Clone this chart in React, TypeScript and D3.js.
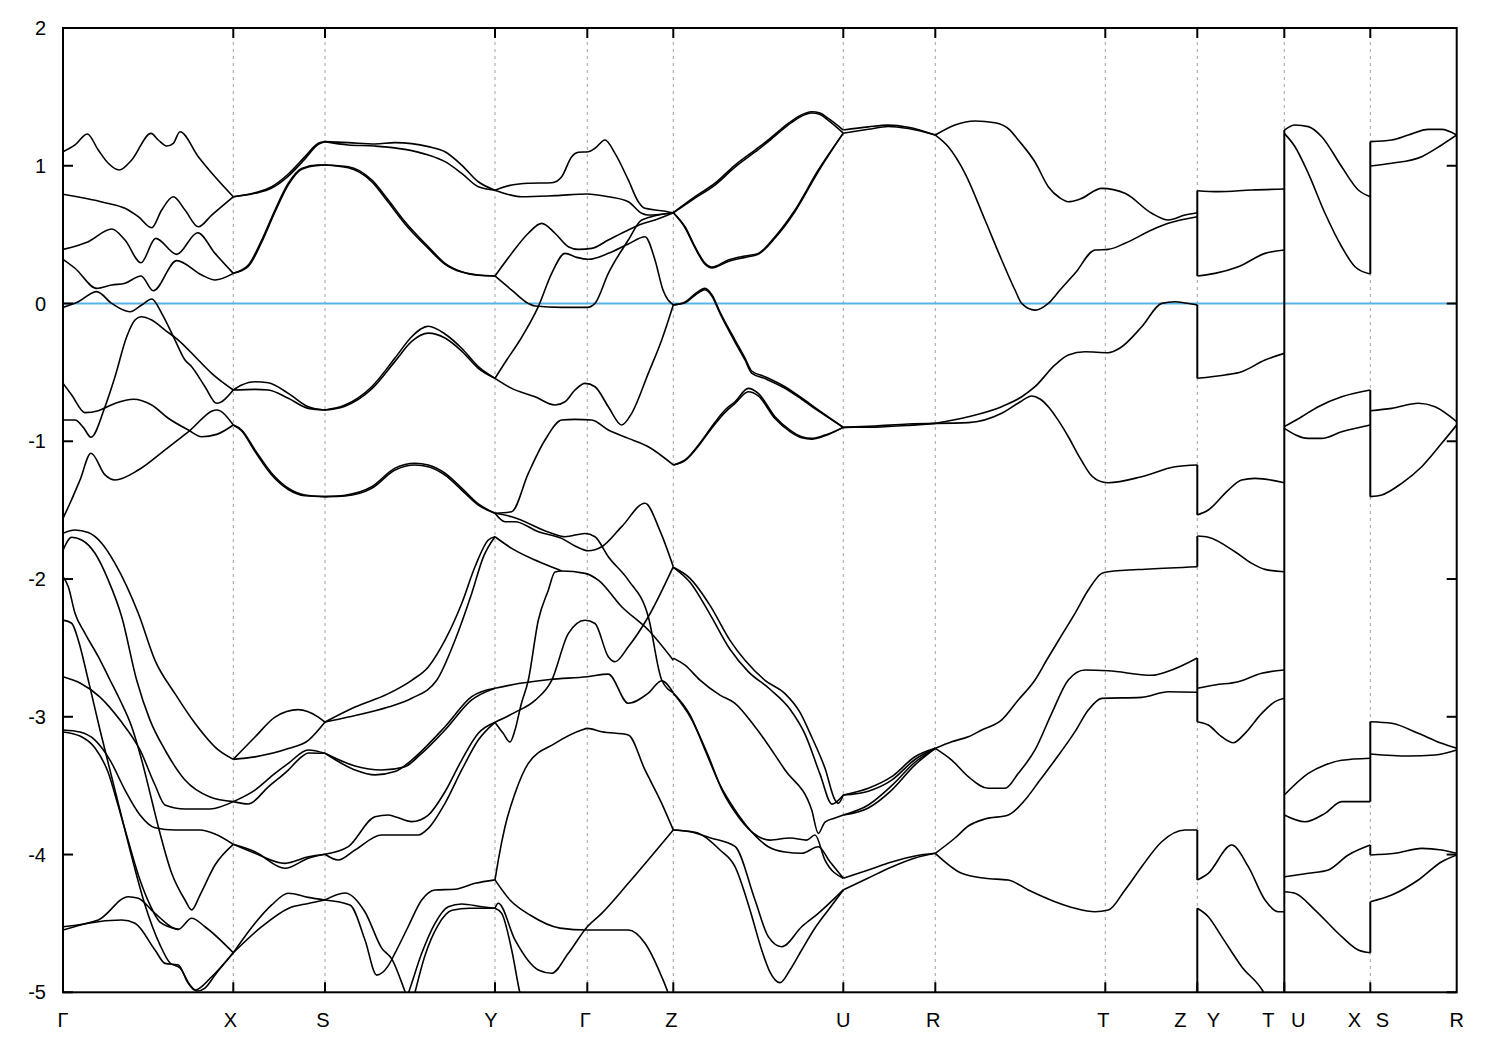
import React, { useEffect, useRef } from "react";
import * as d3 from "d3";

type P = [number, number];

// k-path positions of the high symmetry points
const kTicks = [0, 1.703, 2.62, 4.32, 5.243, 6.103, 7.803, 8.723, 10.423, 11.343, 12.213, 13.073, 13.937];
const kLabels = [
  { k: 0, t: "Γ", dx: 0 }, { k: 1.703, t: "X", dx: -3 }, { k: 2.62, t: "S", dx: -2 },
  { k: 4.32, t: "Y", dx: -4 }, { k: 5.243, t: "Γ", dx: -2 }, { k: 6.103, t: "Z", dx: -2 },
  { k: 7.803, t: "U", dx: 0 }, { k: 8.723, t: "R", dx: -2 }, { k: 10.423, t: "T", dx: -2 },
  { k: 11.343, t: "Z", dx: -17 }, { k: 11.343, t: "Y", dx: 16 },
  { k: 12.213, t: "T", dx: -16 }, { k: 12.213, t: "U", dx: 14 },
  { k: 13.073, t: "X", dx: -16 }, { k: 13.073, t: "S", dx: 12 }, { k: 13.937, t: "R", dx: 0 },
];
const eTicks = [-5, -4, -3, -2, -1, 0, 1, 2];

// Γ - X
const bandsGX: P[][] = [
  [[0,1.102],[0.12,1.151],[0.243,1.231],[0.353,1.114],[0.453,1.018],[0.563,0.969],[0.687,1.042],[0.88,1.235],[0.953,1.187],[1.037,1.143],[1.103,1.163],[1.17,1.247],[1.353,1.066],[1.52,0.92],[1.703,0.775]],
  [[0,0.793],[0.22,0.764],[0.42,0.732],[0.62,0.691],[0.753,0.63],[0.887,0.55],[0.987,0.679],[1.103,0.775],[1.22,0.679],[1.353,0.557],[1.487,0.642],[1.703,0.775]],
  [[0,0.393],[0.253,0.449],[0.487,0.541],[0.62,0.461],[0.78,0.296],[0.927,0.473],[1.137,0.357],[1.347,0.514],[1.52,0.364],[1.703,0.219]],
  [[0,0.321],[0.12,0.256],[0.337,0.11],[0.487,0.134],[0.62,0.147],[0.78,0.2],[0.903,0.093],[1.137,0.311],[1.387,0.207],[1.52,0.171],[1.703,0.219]],
  [[0,-0.028],[0.153,0.013],[0.337,0.086],[0.487,0.001],[0.67,-0.06],[0.787,-0.011],[0.887,0.033],[0.987,-0.071],[1.12,-0.265],[1.22,-0.41],[1.287,-0.459],[1.42,-0.604],[1.537,-0.724],[1.703,-0.628]],
  [[0,-0.846],[0.12,-0.846],[0.203,-0.899],[0.28,-0.971],[0.42,-0.749],[0.52,-0.531],[0.637,-0.241],[0.72,-0.12],[0.78,-0.096],[0.887,-0.12],[1.02,-0.193],[1.153,-0.265],[1.353,-0.41],[1.487,-0.507],[1.703,-0.628]],
  [[0,-0.579],[0.087,-0.664],[0.22,-0.792],[0.353,-0.778],[0.52,-0.725],[0.703,-0.695],[0.887,-0.737],[1.053,-0.833],[1.253,-0.918],[1.387,-0.967],[1.537,-0.95],[1.703,-0.882]],
  [[0,-1.559],[0.07,-1.45],[0.17,-1.281],[0.28,-1.087],[0.42,-1.244],[0.52,-1.281],[0.753,-1.209],[1.02,-1.063],[1.253,-0.931],[1.537,-0.773],[1.703,-0.882]],
  [[0,-1.668],[0.12,-1.644],[0.253,-1.663],[0.387,-1.74],[0.52,-1.886],[0.753,-2.249],[0.92,-2.59],[1.12,-2.832],[1.32,-3.047],[1.553,-3.241],[1.703,-3.309]],
  [[0,-1.79],[0.087,-1.697],[0.187,-1.717],[0.32,-1.813],[0.453,-2.008],[0.587,-2.274],[0.737,-2.735],[0.87,-3.024],[1.02,-3.241],[1.22,-3.459],[1.47,-3.582],[1.703,-3.616]],
  [[0,-1.983],[0.053,-2.056],[0.12,-2.249],[0.22,-2.394],[0.353,-2.564],[0.47,-2.733],[0.57,-2.878],[0.687,-3.072],[0.787,-3.314],[0.887,-3.604],[0.953,-3.798],[1.087,-4.136],[1.22,-4.33],[1.287,-4.402],[1.37,-4.294],[1.52,-4.076],[1.703,-3.926]],
  [[0,-2.298],[0.087,-2.321],[0.153,-2.444],[0.253,-2.735],[0.37,-3.096],[0.52,-3.532],[0.67,-3.967],[0.82,-4.366],[0.97,-4.656],[1.07,-4.787],[1.17,-4.824],[1.27,-4.947],[1.34,-4.991],[1.42,-4.969],[1.52,-4.874],[1.703,-4.713]],
  [[0,-2.709],[0.17,-2.755],[0.37,-2.857],[0.57,-3.024],[0.77,-3.241],[0.92,-3.495],[1.02,-3.64],[1.22,-3.669],[1.47,-3.669],[1.703,-3.616]],
  [[0,-3.096],[0.17,-3.111],[0.32,-3.169],[0.47,-3.314],[0.62,-3.532],[0.77,-3.713],[0.92,-3.806],[1.12,-3.822],[1.37,-3.822],[1.52,-3.851],[1.703,-3.926]],
  [[0,-3.11],[0.17,-3.14],[0.32,-3.227],[0.45,-3.401],[0.55,-3.641],[0.65,-3.895],[0.77,-4.185],[0.87,-4.366],[0.97,-4.49],[1.153,-4.543]],
  [[0,-4.524],[0.353,-4.475],[0.653,-4.306],[0.753,-4.318],[0.92,-4.427],[1.153,-4.543],[1.287,-4.463],[1.42,-4.524],[1.703,-4.713]],
  [[0,-4.548],[0.253,-4.499],[0.587,-4.475],[0.72,-4.499],[0.92,-4.693],[1.02,-4.79],[1.153,-4.802],[1.253,-4.935],[1.32,-4.983],[1.487,-4.887],[1.703,-4.713]],
];

// X - S
const bandsXS: P[][] = [
  [[1.703,0.775],[1.92,0.804],[2.087,0.848],[2.253,0.94],[2.42,1.066],[2.553,1.163],[2.62,1.175]],
  [[1.703,0.775],[1.92,0.8],[2.087,0.838],[2.253,0.925],[2.42,1.05],[2.553,1.155],[2.62,1.175]],
  [[1.703,0.219],[1.853,0.279],[1.987,0.461],[2.12,0.679],[2.253,0.873],[2.387,0.981],[2.553,1.005],[2.62,1.005]],
  [[1.703,0.219],[1.853,0.27],[1.987,0.445],[2.12,0.665],[2.253,0.862],[2.387,0.975],[2.553,1.003],[2.62,1.005]],
  [[1.703,-0.628],[1.787,-0.592],[1.92,-0.568],[2.053,-0.575],[2.253,-0.652],[2.453,-0.749],[2.62,-0.773]],
  [[1.703,-0.628],[1.92,-0.623],[2.053,-0.628],[2.253,-0.688],[2.453,-0.761],[2.62,-0.773]],
  [[1.703,-0.882],[1.787,-0.918],[1.92,-1.063],[2.087,-1.232],[2.253,-1.341],[2.42,-1.39],[2.62,-1.402]],
  [[1.703,-0.882],[1.787,-0.925],[1.92,-1.075],[2.087,-1.245],[2.253,-1.35],[2.42,-1.395],[2.62,-1.402]],
  [[1.703,-3.309],[1.92,-3.147],[2.12,-3.002],[2.353,-2.948],[2.553,-3.002],[2.62,-3.038]],
  [[1.703,-3.309],[1.92,-3.291],[2.253,-3.231],[2.453,-3.171],[2.62,-3.038]],
  [[1.703,-3.616],[1.92,-3.532],[2.12,-3.411],[2.253,-3.338],[2.453,-3.241],[2.62,-3.265]],
  [[1.703,-3.616],[1.853,-3.633],[2.053,-3.508],[2.253,-3.387],[2.387,-3.29],[2.453,-3.263],[2.62,-3.265]],
  [[1.703,-3.926],[1.92,-3.991],[2.22,-4.064],[2.453,-4.016],[2.62,-3.998]],
  [[1.703,-3.926],[1.92,-3.98],[2.22,-4.1],[2.453,-4.027],[2.62,-3.998]],
  [[1.703,-4.713],[1.92,-4.499],[2.087,-4.366],[2.253,-4.281],[2.453,-4.311],[2.62,-4.33]],
  [[1.703,-4.713],[1.987,-4.524],[2.253,-4.391],[2.453,-4.355],[2.62,-4.33]],
];

// S - Y
const bandsSY: P[][] = [
  [[2.62,1.175],[2.853,1.168],[3.12,1.158],[3.32,1.168],[3.653,1.139],[3.82,1.102],[3.987,1.005],[4.153,0.884],[4.32,0.823]],
  [[2.62,1.175],[2.853,1.151],[3.12,1.143],[3.42,1.119],[3.653,1.078],[3.82,1.03],[3.987,0.945],[4.153,0.848],[4.32,0.823]],
  [[2.62,1.005],[2.853,0.993],[3.087,0.897],[3.253,0.751],[3.42,0.594],[3.653,0.412],[3.82,0.292],[3.987,0.231],[4.153,0.207],[4.32,0.2]],
  [[2.62,1.005],[2.853,0.985],[3.087,0.885],[3.253,0.735],[3.42,0.578],[3.653,0.4],[3.82,0.285],[3.987,0.228],[4.153,0.205],[4.32,0.2]],
  [[2.62,-0.773],[2.82,-0.737],[3.087,-0.604],[3.32,-0.396],[3.487,-0.241],[3.653,-0.165],[3.82,-0.221],[3.987,-0.325],[4.153,-0.458],[4.32,-0.543]],
  [[2.62,-0.773],[2.82,-0.745],[3.087,-0.62],[3.32,-0.42],[3.487,-0.275],[3.653,-0.215],[3.82,-0.25],[3.987,-0.345],[4.153,-0.47],[4.32,-0.543]],
  [[2.62,-1.402],[2.82,-1.397],[3.087,-1.342],[3.32,-1.209],[3.52,-1.172],[3.653,-1.185],[3.82,-1.246],[3.987,-1.354],[4.153,-1.463],[4.32,-1.523]],
  [[2.62,-1.402],[2.82,-1.392],[3.087,-1.33],[3.32,-1.195],[3.52,-1.16],[3.653,-1.172],[3.82,-1.232],[3.987,-1.34],[4.153,-1.455],[4.32,-1.523]],
  [[2.62,-3.038],[2.92,-2.929],[3.253,-2.832],[3.487,-2.735],[3.653,-2.638],[3.82,-2.444],[3.987,-2.178],[4.12,-1.911],[4.253,-1.717],[4.32,-1.693]],
  [[2.62,-3.038],[2.853,-3.002],[3.253,-2.929],[3.487,-2.866],[3.737,-2.735],[3.92,-2.444],[4.087,-2.105],[4.203,-1.841],[4.32,-1.693]],
  [[2.62,-3.265],[2.92,-3.386],[3.12,-3.422],[3.32,-3.398],[3.487,-3.314],[3.82,-3.072],[4.087,-2.854],[4.32,-2.793]],
  [[2.62,-3.265],[2.92,-3.357],[3.187,-3.386],[3.42,-3.362],[3.57,-3.277],[3.82,-3.096],[4.087,-2.878],[4.32,-2.793]],
  [[2.62,-3.998],[2.853,-3.943],[3.12,-3.725],[3.253,-3.713],[3.32,-3.725],[3.487,-3.761],[3.653,-3.713],[3.82,-3.544],[3.987,-3.314],[4.153,-3.12],[4.32,-3.04]],
  [[2.62,-3.998],[2.753,-4.04],[2.92,-3.967],[3.187,-3.858],[3.42,-3.858],[3.553,-3.858],[3.653,-3.81],[3.82,-3.628],[3.987,-3.386],[4.153,-3.168],[4.32,-3.04]],
  [[2.62,-4.33],[2.82,-4.279],[3.02,-4.417],[3.187,-4.679],[3.29,-4.761],[3.42,-4.994],[3.47,-5.09]],
  [[2.62,-4.33],[2.87,-4.366],[3.02,-4.62],[3.137,-4.875],[3.25,-4.81],[3.32,-4.716],[3.45,-4.526],[3.587,-4.33],[3.72,-4.257],[3.92,-4.252],[4.12,-4.209],[4.32,-4.184]],
  [[3.41,-5.09],[3.453,-5.007],[3.587,-4.717],[3.72,-4.499],[3.853,-4.379],[3.987,-4.359],[4.187,-4.379],[4.32,-4.39]],
  [[3.49,-5.09],[3.62,-4.732],[3.75,-4.514],[3.89,-4.405],[4.07,-4.39],[4.32,-4.39]],
];

// Y - Γ - Z
const bandsYZ: P[][] = [
  [[4.32,0.823],[4.487,0.86],[4.653,0.873],[4.887,0.877],[4.987,0.921],[5.087,1.066],[5.153,1.098],[5.253,1.102],[5.32,1.127],[5.42,1.187],[5.52,1.09],[5.653,0.897],[5.753,0.739],[5.82,0.691],[5.987,0.674],[6.103,0.659]],
  [[4.32,0.823],[4.587,0.775],[4.92,0.783],[5.243,0.795],[5.453,0.775],[5.653,0.739],[5.787,0.655],[5.853,0.642],[6.103,0.659]],
  [[4.32,0.2],[4.487,0.364],[4.653,0.51],[4.787,0.582],[4.92,0.51],[5.053,0.412],[5.153,0.393],[5.287,0.4],[5.453,0.461],[5.653,0.534],[5.787,0.577],[5.92,0.606],[6.103,0.659]],
  [[4.32,-0.543],[4.437,-0.41],[4.57,-0.265],[4.753,-0.023],[4.887,0.219],[5.02,0.364],[5.137,0.335],[5.253,0.321],[5.453,0.364],[5.653,0.432],[5.82,0.485],[5.92,0.316],[6.0,0.098],[6.103,-0.01]],
  [[4.32,0.2],[4.487,0.098],[4.653,0.001],[4.72,-0.018],[4.987,-0.028],[5.243,-0.028],[5.32,0.001],[5.453,0.219],[5.653,0.461],[5.787,0.606],[6.103,0.659]],
  [[4.32,-0.543],[4.487,-0.616],[4.72,-0.677],[4.92,-0.737],[5.02,-0.713],[5.12,-0.628],[5.22,-0.58],[5.32,-0.604],[5.453,-0.749],[5.587,-0.882],[5.687,-0.797],[5.853,-0.507],[5.987,-0.265],[6.103,-0.01]],
  [[4.32,-1.523],[4.487,-1.511],[4.653,-1.233],[4.82,-0.991],[4.987,-0.846],[5.12,-0.841],[5.287,-0.846],[5.453,-0.918],[5.653,-0.979],[5.853,-1.04],[6.103,-1.172]],
  [[4.32,-1.523],[4.487,-1.548],[4.887,-1.668],[5.02,-1.693],[5.22,-1.669],[5.32,-1.693],[5.453,-1.838],[5.653,-2.008],[5.853,-2.274],[5.987,-2.733],[6.103,-2.825]],
  [[4.32,-1.523],[4.42,-1.584],[4.52,-1.584],[4.753,-1.657],[4.987,-1.705],[5.12,-1.76],[5.253,-1.795],[5.387,-1.766],[5.587,-1.62],[5.82,-1.45],[5.97,-1.65],[6.103,-1.91]],
  [[4.32,-1.693],[4.487,-1.777],[4.72,-1.862],[4.92,-1.922],[4.987,-1.942]],
  [[4.32,-2.793],[4.57,-2.757],[4.87,-2.729],[5.243,-2.709],[5.453,-2.69],[5.653,-2.902],[5.853,-2.829],[5.987,-2.738],[6.103,-2.825]],
  [[4.32,-3.04],[4.52,-2.968],[4.72,-2.881],[4.887,-2.735],[5.053,-2.396],[5.22,-2.299],[5.32,-2.323],[5.453,-2.564],[5.52,-2.6],[5.653,-2.492],[5.853,-2.274],[6.103,-1.91]],
  [[4.32,-3.04],[4.4,-3.118],[4.47,-3.183],[4.52,-3.096],[4.58,-2.914],[4.653,-2.735],[4.753,-2.299],[4.853,-2.081],[4.92,-1.949],[4.987,-1.942],[5.22,-1.959],[5.353,-2.008],[5.587,-2.201],[5.853,-2.37],[6.103,-2.589]],
  [[4.32,-4.184],[4.353,-4.04],[4.42,-3.798],[4.52,-3.556],[4.653,-3.338],[4.92,-3.193],[5.187,-3.096],[5.243,-3.084],[5.387,-3.108],[5.653,-3.132],[5.82,-3.386],[5.987,-3.628],[6.103,-3.822]],
  [[4.32,-4.39],[4.353,-4.354],[4.52,-4.62],[4.753,-4.838],[4.887,-4.862],[5.053,-4.717],[5.243,-4.524],[5.387,-4.427],[5.653,-4.209],[6.103,-3.822]],
  [[4.32,-4.184],[4.47,-4.33],[4.67,-4.439],[4.97,-4.534],[5.243,-4.548],[5.653,-4.548],[5.82,-4.644],[5.987,-4.887],[6.053,-5.008],[6.09,-5.09]],
  [[4.32,-4.39],[4.387,-4.427],[4.487,-4.693],[4.57,-5.007],[4.6,-5.09]],
];

// Z - U
const bandsZU: P[][] = [
  [[6.103,0.659],[6.32,0.775],[6.52,0.873],[6.72,1.005],[6.92,1.114],[7.053,1.187],[7.253,1.308],[7.37,1.364],[7.487,1.392],[7.57,1.382],[7.653,1.344],[7.803,1.259]],
  [[6.103,0.659],[6.32,0.765],[6.52,0.86],[6.72,0.99],[6.92,1.1],[7.053,1.175],[7.253,1.297],[7.37,1.354],[7.487,1.383],[7.57,1.372],[7.653,1.33],[7.803,1.237]],
  [[6.103,0.659],[6.22,0.557],[6.32,0.412],[6.42,0.294],[6.49,0.265],[6.653,0.316],[6.82,0.345],[6.953,0.364],[7.12,0.485],[7.32,0.679],[7.553,0.969],[7.803,1.237]],
  [[6.103,0.659],[6.22,0.55],[6.32,0.405],[6.42,0.285],[6.49,0.258],[6.653,0.305],[6.82,0.335],[6.953,0.358],[7.12,0.475],[7.32,0.668],[7.553,0.958],[7.803,1.237]],
  [[6.103,-0.01],[6.22,0.011],[6.32,0.069],[6.42,0.11],[6.49,0.062],[6.57,-0.062],[6.72,-0.265],[6.82,-0.396],[6.887,-0.49],[7.02,-0.531],[7.22,-0.604],[7.387,-0.686],[7.553,-0.773],[7.803,-0.899]],
  [[6.103,-0.01],[6.22,0.005],[6.32,0.06],[6.42,0.1],[6.49,0.052],[6.57,-0.072],[6.72,-0.28],[6.82,-0.41],[6.887,-0.505],[7.02,-0.545],[7.22,-0.615],[7.387,-0.695],[7.553,-0.78],[7.803,-0.899]],
  [[6.103,-1.172],[6.22,-1.136],[6.37,-1.012],[6.487,-0.894],[6.62,-0.773],[6.72,-0.713],[6.853,-0.616],[6.953,-0.652],[7.12,-0.822],[7.27,-0.919],[7.387,-0.967],[7.487,-0.979],[7.62,-0.955],[7.803,-0.899]],
  [[6.103,-1.172],[6.22,-1.14],[6.37,-1.02],[6.487,-0.905],[6.62,-0.79],[6.72,-0.725],[6.853,-0.64],[6.953,-0.67],[7.12,-0.835],[7.27,-0.93],[7.387,-0.975],[7.487,-0.985],[7.62,-0.96],[7.803,-0.899]],
  [[6.103,-1.915],[6.27,-1.995],[6.47,-2.191],[6.67,-2.445],[6.82,-2.59],[7.02,-2.735],[7.22,-2.832],[7.37,-2.968],[7.487,-3.147],[7.62,-3.374],[7.72,-3.604],[7.753,-3.628],[7.803,-3.568]],
  [[6.103,-1.915],[6.27,-2.024],[6.47,-2.256],[6.67,-2.51],[6.85,-2.67],[7.07,-2.8],[7.27,-2.945],[7.42,-3.126],[7.57,-3.416],[7.69,-3.634],[7.803,-3.568]],
  [[6.103,-2.574],[6.22,-2.625],[6.37,-2.734],[6.57,-2.843],[6.72,-2.902],[6.92,-3.072],[7.22,-3.386],[7.487,-3.677],[7.553,-3.846],[7.62,-3.764],[7.72,-3.735],[7.803,-3.713]],
  [[6.103,-2.828],[6.27,-2.987],[6.42,-3.241],[6.57,-3.495],[6.72,-3.677],[6.87,-3.822],[7.053,-3.943],[7.22,-3.982],[7.387,-3.991],[7.553,-3.943],[7.67,-4.053],[7.803,-4.172]],
  [[6.103,-2.828],[6.29,-3.024],[6.45,-3.278],[6.59,-3.532],[6.72,-3.692],[6.89,-3.837],[7.07,-3.895],[7.27,-3.88],[7.437,-3.895],[7.52,-3.858],[7.62,-4.04],[7.803,-4.172]],
  [[6.103,-3.822],[6.27,-3.834],[6.47,-3.878],[6.72,-3.941],[6.92,-4.33],[7.053,-4.596],[7.187,-4.669],[7.387,-4.524],[7.553,-4.427],[7.803,-4.257]],
  [[6.103,-3.822],[6.32,-3.838],[6.57,-3.967],[6.72,-4.088],[6.87,-4.402],[6.987,-4.693],[7.07,-4.853],[7.17,-4.93],[7.27,-4.838],[7.387,-4.693],[7.52,-4.533],[7.653,-4.402],[7.803,-4.257]],
];

// U - R
const bandsUR: P[][] = [
  [[7.803,1.259],[8.053,1.282],[8.253,1.295],[8.453,1.28],[8.723,1.223]],
  [[7.803,1.237],[8.053,1.265],[8.253,1.285],[8.453,1.27],[8.723,1.223]],
  [[7.803,-0.899],[8.12,-0.889],[8.453,-0.875],[8.723,-0.87]],
  [[7.803,-0.899],[8.12,-0.897],[8.453,-0.885],[8.723,-0.87]],
  [[7.803,-3.568],[8.053,-3.519],[8.287,-3.435],[8.52,-3.29],[8.723,-3.229]],
  [[7.803,-3.568],[8.053,-3.54],[8.287,-3.46],[8.52,-3.31],[8.723,-3.229]],
  [[7.803,-3.713],[8.053,-3.662],[8.287,-3.532],[8.52,-3.349],[8.723,-3.229]],
  [[7.803,-3.713],[8.053,-3.64],[8.287,-3.5],[8.52,-3.33],[8.723,-3.229]],
  [[7.803,-4.172],[8.053,-4.112],[8.287,-4.054],[8.52,-4.01],[8.723,-3.991]],
  [[7.803,-4.257],[8.053,-4.17],[8.287,-4.09],[8.52,-4.025],[8.723,-3.991]],
];

// R - T - Z
const bandsRZ: P[][] = [
  [[8.723,1.223],[8.92,1.296],[9.12,1.325],[9.32,1.312],[9.47,1.259],[9.553,1.187],[9.72,1.027],[9.853,0.848],[9.97,0.766],[10.053,0.739],[10.17,0.758],[10.387,0.836],[10.62,0.8],[10.887,0.655],[11.053,0.606],[11.22,0.642],[11.343,0.659]],
  [[8.723,1.223],[8.853,1.138],[9.02,0.945],[9.22,0.606],[9.387,0.316],[9.52,0.098],[9.587,0.001],[9.72,-0.048],[9.853,0.001],[9.97,0.098],[10.12,0.219],[10.32,0.388],[10.453,0.393],[10.62,0.437],[10.887,0.534],[11.053,0.582],[11.343,0.63]],
  [[8.723,-0.87],[9.053,-0.822],[9.387,-0.749],[9.587,-0.677],[9.72,-0.604],[9.92,-0.446],[10.053,-0.374],[10.22,-0.35],[10.453,-0.357],[10.57,-0.323],[10.787,-0.169],[10.987,0.001],[11.12,0.013],[11.22,0.004],[11.343,-0.01]],
  [[8.723,-0.87],[9.053,-0.865],[9.387,-0.797],[9.57,-0.715],[9.687,-0.671],[9.77,-0.693],[9.853,-0.749],[9.95,-0.845],[10.053,-0.967],[10.17,-1.121],[10.27,-1.237],[10.387,-1.294],[10.453,-1.301],[10.787,-1.257],[11.12,-1.185],[11.343,-1.172]],
  [[8.723,-3.229],[8.887,-3.181],[9.053,-3.145],[9.187,-3.096],[9.387,-3.023],[9.553,-2.878],[9.72,-2.733],[9.837,-2.588],[9.97,-2.428],[10.12,-2.249],[10.253,-2.08],[10.387,-1.959],[10.453,-1.947],[10.87,-1.927],[11.343,-1.911]],
  [[8.723,-3.991],[8.92,-3.88],[9.053,-3.793],[9.22,-3.742],[9.453,-3.713],[9.62,-3.604],[9.77,-3.459],[9.92,-3.314],[10.12,-3.108],[10.253,-2.951],[10.387,-2.866],[10.787,-2.859],[11.053,-2.818],[11.343,-2.822]],
  [[8.723,-3.229],[8.887,-3.314],[9.053,-3.435],[9.253,-3.519],[9.42,-3.519],[9.553,-3.41],[9.72,-3.241],[9.887,-2.975],[10.053,-2.733],[10.22,-2.66],[10.453,-2.666],[10.887,-2.699],[11.087,-2.66],[11.343,-2.573]],
  [[8.723,-3.991],[8.987,-4.136],[9.22,-4.172],[9.453,-4.185],[9.653,-4.257],[9.92,-4.342],[10.12,-4.39],[10.32,-4.415],[10.453,-4.403],[10.62,-4.257],[10.787,-4.088],[10.987,-3.907],[11.22,-3.822],[11.343,-3.822]],
];

// Y - T
const bandsYT: P[][] = [
  [[11.343,0.819],[11.553,0.812],[11.887,0.824],[12.213,0.831]],
  [[11.343,0.2],[11.52,0.219],[11.753,0.267],[12.02,0.364],[12.213,0.388]],
  [[11.343,-0.543],[11.62,-0.519],[11.787,-0.495],[12.02,-0.41],[12.213,-0.362]],
  [[11.343,-1.535],[11.453,-1.499],[11.653,-1.354],[11.787,-1.281],[11.92,-1.269],[12.213,-1.301]],
  [[11.343,-1.688],[11.453,-1.697],[11.72,-1.802],[11.887,-1.886],[12.02,-1.93],[12.213,-1.947]],
  [[11.343,-2.793],[11.52,-2.769],[11.753,-2.745],[11.987,-2.684],[12.213,-2.66]],
  [[11.343,-3.036],[11.453,-3.06],[11.587,-3.145],[11.703,-3.188],[11.82,-3.12],[11.987,-2.975],[12.12,-2.89],[12.213,-2.866]],
  [[11.343,-4.185],[11.453,-4.136],[11.687,-3.931],[11.853,-4.088],[12.02,-4.33],[12.153,-4.415],[12.213,-4.415]],
  [[11.343,-4.39],[11.453,-4.451],[11.587,-4.596],[11.787,-4.814],[12.003,-4.996],[12.07,-5.09]],
];

// U - X
const bandsUX: P[][] = [
  [[12.213,1.259],[12.32,1.296],[12.453,1.284],[12.587,1.211],[12.787,0.993],[12.953,0.824],[13.073,0.775]],
  [[12.213,1.235],[12.32,1.138],[12.453,0.945],[12.62,0.655],[12.787,0.412],[12.92,0.267],[13.073,0.214]],
  [[12.213,-0.894],[12.387,-0.822],[12.553,-0.749],[12.787,-0.677],[13.073,-0.628]],
  [[12.213,-0.906],[12.453,-0.979],[12.587,-0.979],[12.787,-0.931],[13.073,-0.882]],
  [[12.213,-3.568],[12.453,-3.411],[12.62,-3.35],[12.787,-3.316],[13.073,-3.301]],
  [[12.213,-3.713],[12.42,-3.762],[12.62,-3.701],[12.787,-3.616],[13.073,-3.616]],
  [[12.213,-4.161],[12.453,-4.136],[12.653,-4.112],[12.853,-4.003],[13.073,-3.931]],
  [[12.213,-4.27],[12.32,-4.281],[12.52,-4.403],[12.787,-4.596],[12.953,-4.693],[13.073,-4.713]],
];

// S - R
const bandsSR: P[][] = [
  [[13.073,1.175],[13.287,1.187],[13.453,1.223],[13.653,1.264],[13.787,1.264],[13.937,1.223]],
  [[13.073,0.998],[13.287,1.018],[13.587,1.066],[13.787,1.151],[13.937,1.223]],
  [[13.073,-0.778],[13.287,-0.761],[13.553,-0.724],[13.72,-0.749],[13.937,-0.858]],
  [[13.073,-1.402],[13.187,-1.39],[13.387,-1.305],[13.587,-1.185],[13.787,-1.015],[13.937,-0.882]],
  [[13.073,-3.036],[13.287,-3.047],[13.553,-3.12],[13.787,-3.193],[13.937,-3.229]],
  [[13.073,-3.27],[13.453,-3.285],[13.72,-3.277],[13.937,-3.241]],
  [[13.073,-4.003],[13.32,-3.991],[13.587,-3.955],[13.787,-3.967],[13.937,-3.991]],
  [[13.073,-4.342],[13.287,-4.294],[13.553,-4.185],[13.787,-4.052],[13.937,-4.003]],
];

// vertical band connections at the path discontinuities: [k, E1, E2]
const jumps: [number, number, number][] = [
  [11.343, 0.819, 0.2], [11.343, -0.01, -0.543], [11.343, -1.172, -1.535], [11.343, -1.688, -1.911],
  [11.343, -2.573, -3.036], [11.343, -3.822, -4.185], [11.343, -4.39, -5.1],
  [12.213, 1.259, -5.1],
  [13.073, 1.175, 0.214], [13.073, -0.628, -1.402], [13.073, -3.036, -3.616], [13.073, -3.931, -4.003], [13.073, -4.342, -4.713],
];

const App = () => {
  const svgRef = useRef<SVGSVGElement | null>(null);
  const w = 1500;
  const h = 1050;
  const m = { top: 28, right: 43.3, bottom: 57.7, left: 63 };

  useEffect(() => {
    const svg = d3.select(svgRef.current);
    svg.selectAll("*").remove();

    const x = d3.scaleLinear().domain([0, 13.937]).range([m.left, w - m.right]);
    const y = d3.scaleLinear().domain([-5, 2]).range([h - m.bottom, m.top]);
    const font = "'Liberation Sans', Arial, sans-serif";

    svg.append("rect").attr("width", w).attr("height", h).attr("fill", "#fff");

    svg.append("defs").append("clipPath").attr("id", "plotclip")
      .append("rect")
      .attr("x", m.left).attr("y", m.top)
      .attr("width", w - m.left - m.right).attr("height", h - m.top - m.bottom);

    // dashed grid at the high symmetry points
    svg.append("g").selectAll("line")
      .data(kTicks.slice(1, -1))
      .enter().append("line")
      .attr("x1", (d) => x(d)).attr("x2", (d) => x(d))
      .attr("y1", m.top).attr("y2", h - m.bottom)
      .attr("stroke", "#a0a0a0").attr("stroke-width", 1)
      .attr("stroke-dasharray", "3,4");

    // Fermi level
    svg.append("line")
      .attr("x1", m.left).attr("x2", w - m.right)
      .attr("y1", y(0)).attr("y2", y(0))
      .attr("stroke", "#56b4e9").attr("stroke-width", 2);

    const plot = svg.append("g").attr("clip-path", "url(#plotclip)");
    const line = d3.line<P>().x((d) => x(d[0])).y((d) => y(d[1])).curve(d3.curveMonotoneX);

    const allBands = [
      ...bandsGX, ...bandsXS, ...bandsSY, ...bandsYZ, ...bandsZU,
      ...bandsUR, ...bandsRZ, ...bandsYT, ...bandsUX, ...bandsSR,
    ];
    plot.selectAll("path.band")
      .data(allBands)
      .enter().append("path")
      .attr("class", "band")
      .attr("d", (d) => line(d))
      .attr("fill", "none")
      .attr("stroke", "#000")
      .attr("stroke-width", 1.6)
      .attr("stroke-linejoin", "round");

    plot.selectAll("line.jump")
      .data(jumps)
      .enter().append("line")
      .attr("class", "jump")
      .attr("x1", (d) => x(d[0])).attr("x2", (d) => x(d[0]))
      .attr("y1", (d) => y(d[1])).attr("y2", (d) => y(d[2]))
      .attr("stroke", "#000").attr("stroke-width", 2);

    // frame
    svg.append("rect")
      .attr("x", m.left).attr("y", m.top)
      .attr("width", w - m.left - m.right).attr("height", h - m.top - m.bottom)
      .attr("fill", "none").attr("stroke", "#000").attr("stroke-width", 2);

    // ticks
    const tk = svg.append("g").attr("stroke", "#000").attr("stroke-width", 2);
    kTicks.slice(1, -1).forEach((k) => {
      tk.append("line").attr("x1", x(k)).attr("x2", x(k)).attr("y1", h - m.bottom).attr("y2", h - m.bottom - 10);
      tk.append("line").attr("x1", x(k)).attr("x2", x(k)).attr("y1", m.top).attr("y2", m.top + 10);
    });
    eTicks.forEach((e) => {
      tk.append("line").attr("x1", m.left).attr("x2", m.left + 10).attr("y1", y(e)).attr("y2", y(e));
      tk.append("line").attr("x1", w - m.right).attr("x2", w - m.right - 10).attr("y1", y(e)).attr("y2", y(e));
    });

    svg.append("g").selectAll("text")
      .data(eTicks)
      .enter().append("text")
      .attr("x", m.left - 17)
      .attr("y", (d) => y(d))
      .attr("dy", "0.35em")
      .attr("text-anchor", "end")
      .style("font-family", font)
      .style("font-size", "20px")
      .text((d) => String(d));

    svg.append("g").selectAll("text")
      .data(kLabels)
      .enter().append("text")
      .attr("x", (d) => x(d.k) + d.dx)
      .attr("y", h - m.bottom + 35)
      .attr("text-anchor", "middle")
      .style("font-family", font)
      .style("font-size", "20px")
      .text((d) => d.t);
  }, []);

  return (
    <svg
      ref={svgRef}
      width={w}
      height={h}
      style={{ position: "absolute", left: 0, top: 0 }}
    ></svg>
  );
};

export default App;
